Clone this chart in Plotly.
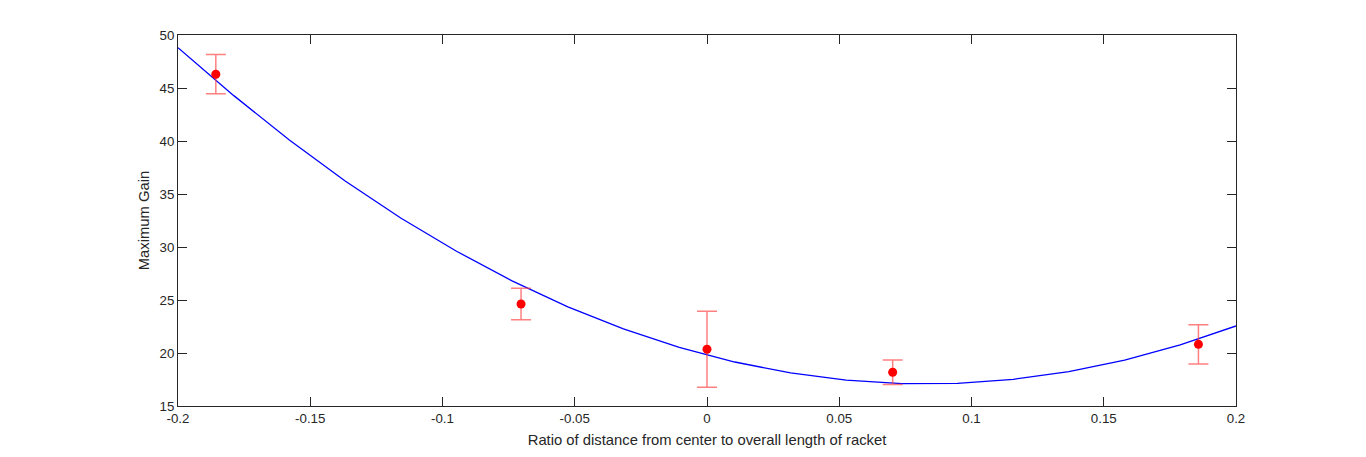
import plotly.graph_objects as go

# measured points
ratio = [-0.1857, -0.0703, 0.0, 0.0702, 0.1858]
gain = [46.3, 24.62, 20.35, 18.18, 20.82]
gain_err = [1.85, 1.48, 3.58, 1.16, 1.85]

# fitted curve at its vertices
fit_x = [-0.2, -0.1789, -0.1579, -0.1368, -0.1158, -0.0947, -0.0737, -0.0526,
         -0.0316, -0.0105, 0.0105, 0.0316, 0.0526, 0.0737, 0.0947, 0.1158,
         0.1368, 0.1579, 0.1789, 0.2]
fit_y = [48.8, 44.28, 40.09, 36.23, 32.74, 29.6, 26.81, 24.36,
         22.28, 20.53, 19.15, 18.12, 17.44, 17.11, 17.14, 17.52,
         18.25, 19.33, 20.76, 22.55]

x_ticks = [-0.2, -0.15, -0.1, -0.05, 0, 0.05, 0.1, 0.15, 0.2]
x_labels = ["-0.2", "-0.15", "-0.1", "-0.05", "0", "0.05", "0.1", "0.15", "0.2"]
y_ticks = [15, 20, 25, 30, 35, 40, 45, 50]

axis_col = "#262626"
tick_font = dict(family="Liberation Sans, Arial, sans-serif", size=13.3, color=axis_col)
title_font = dict(family="Liberation Sans, Arial, sans-serif", size=14.8, color=axis_col)

fig = go.Figure()

fig.add_trace(go.Scatter(
    x=fit_x, y=fit_y, mode="lines",
    line=dict(color="#0000ff", width=1.3),
    showlegend=False,
))

fig.add_trace(go.Scatter(
    x=ratio, y=gain, mode="markers",
    marker=dict(color="#ff0000", size=9),
    error_y=dict(type="data", array=gain_err, visible=True,
                 color="rgba(255,60,60,0.65)", thickness=1.5, width=10),
    showlegend=False,
))

axis_common = dict(
    showgrid=False, zeroline=False, showline=True, linecolor=axis_col,
    linewidth=1, mirror="ticks", ticks="inside", ticklen=9,
    tickcolor=axis_col, tickfont=tick_font,
)

fig.update_xaxes(
    range=[-0.2, 0.2], tickvals=x_ticks, ticktext=x_labels,
    title=dict(text="Ratio of distance from center to overall length of racket",
               font=title_font, standoff=9),
    **axis_common,
)
fig.update_yaxes(
    range=[15, 50], tickvals=y_ticks,
    title=dict(text="Maximum Gain", font=title_font, standoff=6),
    **axis_common,
)

fig.update_layout(
    width=1366, height=457,
    margin=dict(l=170, r=138, t=27, b=59),
    plot_bgcolor="white", paper_bgcolor="white",
    font=tick_font,
)

fig.write_html("out.html")
